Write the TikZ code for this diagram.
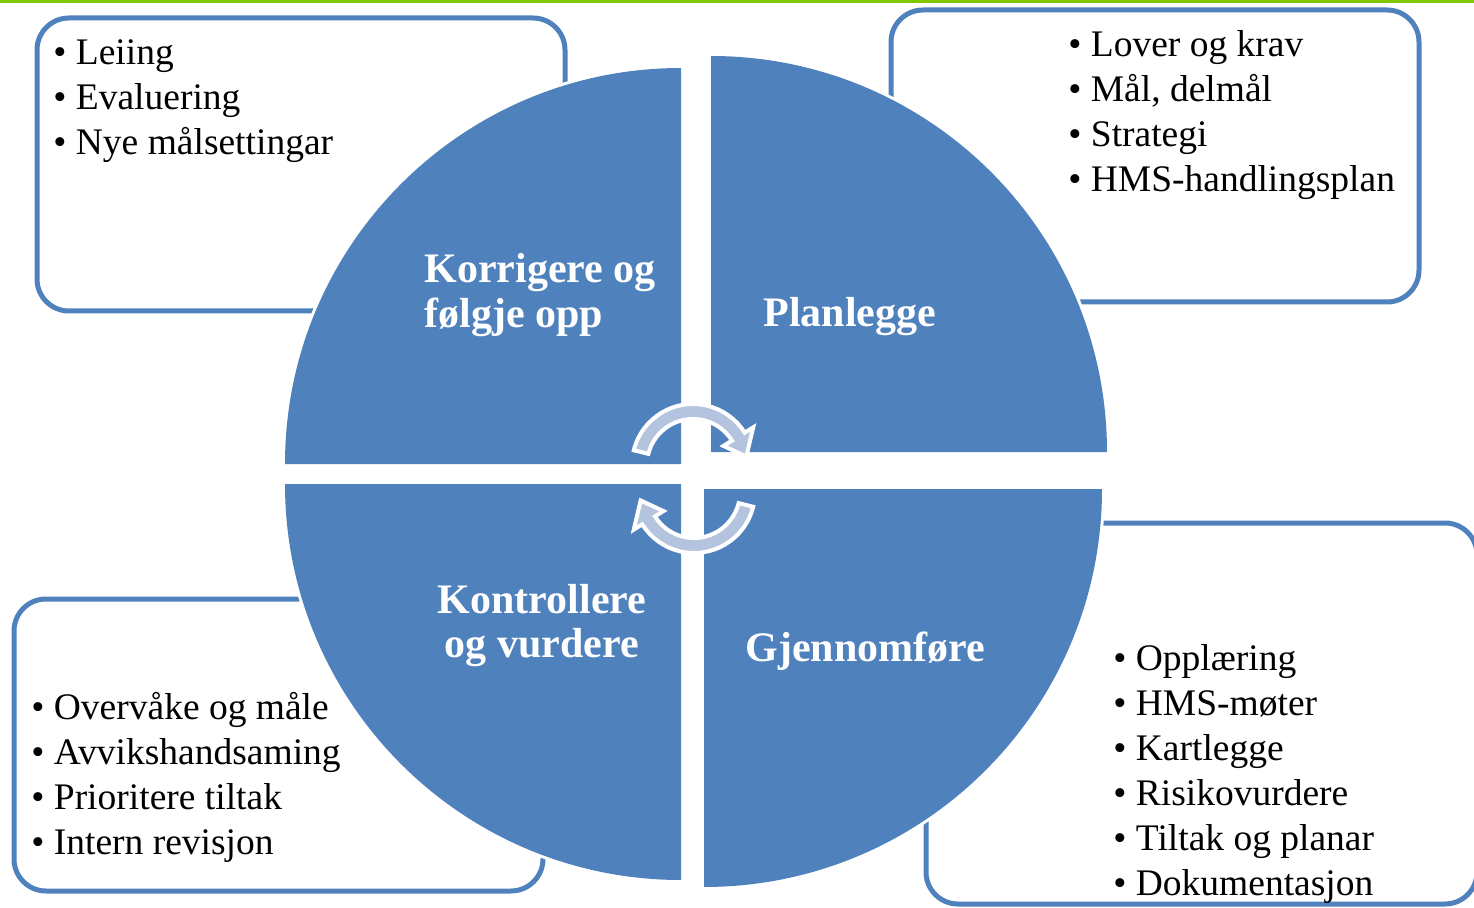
\documentclass[tikz,border=0pt]{standalone}
\usepackage{fontspec}
\setmainfont{Liberation Serif}
\usetikzlibrary{calc}

\definecolor{quadblue}{RGB}{79,129,189}
\definecolor{arrowblue}{RGB}{180,196,223}
\definecolor{topgreen}{RGB}{128,200,0}

\begin{document}
\begin{tikzpicture}[x=0.5pt,y=0.5pt]

\tikzstyle{listbox} = [draw=quadblue, line width=2.5pt, rounded corners=16pt]%
\tikzstyle{quadrant} = [fill=quadblue, preaction={draw=white, line width=3pt}]%
\tikzstyle{qlabel} = [text=white, inner sep=0, font=\bfseries\fontsize{21}{22}\selectfont]%
\tikzstyle{item} = [anchor=base west, inner sep=0, font=\fontsize{18.75}{22.5}\selectfont]%
\tikzstyle{cyclearrow} = [fill=arrowblue, draw=white, line width=2pt, line join=miter]%

\useasboundingbox (0,0) rectangle (1474,907);
\fill[topgreen] (0,904) rectangle (1474,907);

% boxes behind the circle
\draw[listbox] (37,596) rectangle (565,889);
\draw[listbox] (891,605) rectangle (1419,897);
\draw[listbox] (14,16) rectangle (543,308);
\draw[listbox] (926,3) rectangle (1477,384);

% quarters of the circle
\coordinate (qtl) at (681,443);
\coordinate (qtr) at (711,455);
\coordinate (qbl) at (681,423);
\coordinate (qbr) at (704,418);

\path[quadrant] (qtl) -- ++(90:396) arc[start angle=90, end angle=180, radius=198pt] -- cycle;
\path[quadrant] (qtr) -- ++(0:396) arc[start angle=0, end angle=90, radius=198pt] -- cycle;
\path[quadrant] (qbl) -- ++(180:396) arc[start angle=180, end angle=270, radius=198pt] -- cycle;
\path[quadrant] (qbr) -- ++(270:398) arc[start angle=270, end angle=360, radius=199pt] -- cycle;

% base of a two-line label is its last line
\node[qlabel, align=left, anchor=base west] (korr) at (424,580) {Korrigere og\\følgje opp};
\node[qlabel, anchor=base west] (plan) at (763,581) {Planlegge};
\node[qlabel, align=center, anchor=base] (kont) at (542,250) {Kontrollere\\og vurdere};
\node[qlabel, anchor=base west] (gjen) at (745,246) {Gjennomføre};

% circular arrows in the middle
\coordinate (ca) at (693,442);
\coordinate (cb) at (694,415);

\path[cyclearrow] ($(ca)+(166:61)$) arc[start angle=166, end angle=32, radius=30.5pt]
    -- ($(ca)+(32:71)$) -- ($(ca)+(9:54)$) -- ($(ca)+(32:36)$) -- ($(ca)+(32:46)$)
    arc[start angle=32, end angle=166, radius=23pt] -- cycle;
\path[cyclearrow] ($(cb)+(-14:61)$) arc[start angle=-14, end angle=-148, radius=30.5pt]
    -- ($(cb)+(-148:71)$) -- ($(cb)+(-171:54)$) -- ($(cb)+(-148:36)$) -- ($(cb)+(-148:46)$)
    arc[start angle=-148, end angle=-14, radius=23pt] -- cycle;

% lists
\foreach \txt [count=\i] in {Leiing, Evaluering, Nye målsettingar}
    \node[item] (korr\i) at (53,887-45*\i) {• \txt};
\foreach \txt [count=\i] in {Lover og krav, {Mål, delmål}, Strategi, HMS-handlingsplan}
    \node[item] (plan\i) at (1068,895-45*\i) {• \txt};
\foreach \txt [count=\i] in {Overvåke og måle, Avvikshandsaming, Prioritere tiltak, Intern revisjon}
    \node[item] (kont\i) at (31,233-45*\i) {• \txt};
\foreach \txt [count=\i] in {Opplæring, HMS-møter, Kartlegge, Risikovurdere, Tiltak og planar, Dokumentasjon}
    \node[item] (gjen\i) at (1113,282-45*\i) {• \txt};

\end{tikzpicture}
\end{document}
